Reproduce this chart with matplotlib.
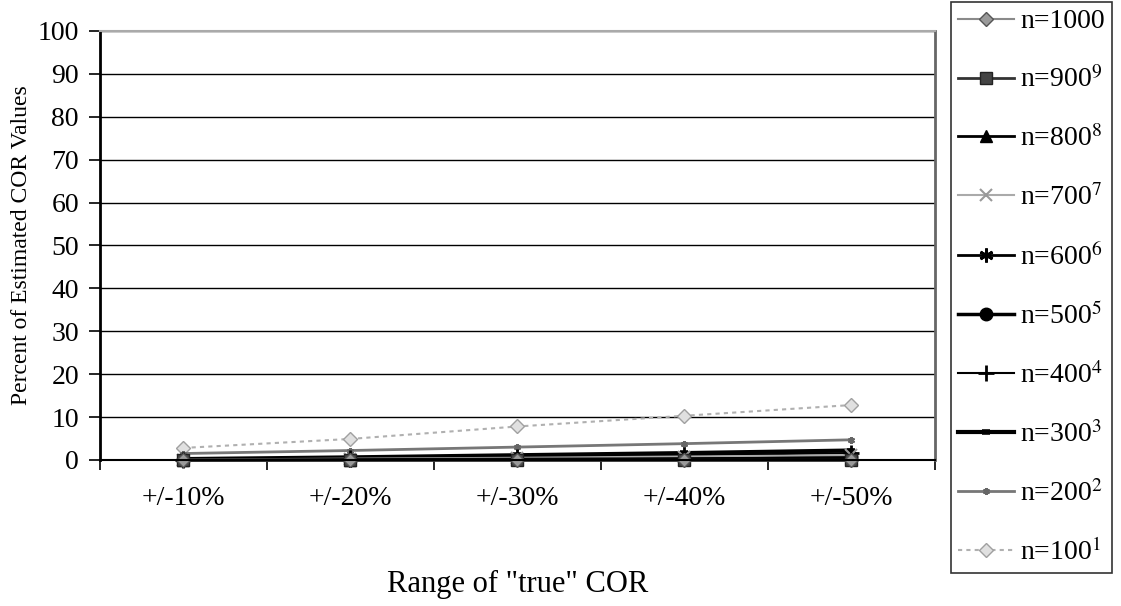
import numpy as np
import matplotlib.pyplot as plt

plt.rcParams['font.family'] = ['Liberation Serif', 'DejaVu Serif']
plt.rcParams['mathtext.fontset'] = 'stix'

# data
ranges = ['+/-10%', '+/-20%', '+/-30%', '+/-40%', '+/-50%']
n1000 = [0, 0, 0, 0, 0]
n900 = [0, 0, 0, 0, 0]
n800 = [0, 0.1, 0.2, 0.3, 0.5]
n700 = [0.1, 0.3, 0.5, 0.8, 1.1]
n600 = [0, 0.1, 0.3, 0.5, 0.8]
n500 = [0, 0.1, 0.2, 0.4, 0.6]
n400 = [0.1, 0.4, 0.8, 1.1, 1.6]
n300 = [0.2, 0.6, 1.1, 1.6, 2.2]
n200 = [1.5, 2.2, 3.0, 3.8, 4.7]
n100 = [2.8, 4.9, 7.8, 10.3, 12.8]

series = [
    ('n=1000', n1000, dict(color='#8a8a8a', lw=1.5, marker='D', ms=7, mfc='#9a9a9a', mec='#555555')),
    ('n=900$^{9}$', n900, dict(color='#333333', lw=2, marker='s', ms=8, mfc='#444444', mec='#222222')),
    ('n=800$^{8}$', n800, dict(color='black', lw=2, marker='^', ms=9, mfc='black', mec='black')),
    ('n=700$^{7}$', n700, dict(color='#aaaaaa', lw=1.5, marker='x', ms=9, mew=1.5, mec='#999999')),
    ('n=600$^{6}$', n600, dict(color='black', lw=2, marker=(6, 2, 0), ms=10, mew=2, mec='black')),
    ('n=500$^{5}$', n500, dict(color='black', lw=2.5, marker='o', ms=9, mfc='black', mec='black')),
    ('n=400$^{4}$', n400, dict(color='black', lw=1.5, marker='+', ms=11, mew=2, mec='black')),
    ('n=300$^{3}$', n300, dict(color='black', lw=3, marker='_', ms=6, mew=4, mec='black')),
    ('n=200$^{2}$', n200, dict(color='#777777', lw=2, marker=(6, 2, 0), ms=5, mew=1.5, mec='#666666')),
    ('n=100$^{1}$', n100, dict(color='#b0b0b0', lw=1.5, ls=(0, (2, 2)), marker='D', ms=7, mfc='#e0e0e0', mec='#a0a0a0')),
]

fig = plt.figure(figsize=(11.21, 6.06), dpi=100)
ax = fig.add_axes([0.089, 0.241, 0.745, 0.708])

x = np.arange(len(ranges))
# draw back to front so the black lines sit on top
for label, vals, style in reversed(series):
    ax.plot(x, vals, label=label, clip_on=False, **style)

ax.set_ylim(0, 100)
ax.set_xlim(-0.5, len(ranges) - 0.5)
ax.set_yticks(np.arange(0, 101, 10))
ax.yaxis.grid(True, color='black', lw=1)
ax.set_axisbelow(True)

ax.set_xticks(np.arange(-0.5, len(ranges), 1))
ax.set_xticklabels([])
ax.set_xticks(x, minor=True)
ax.set_xticklabels(ranges, minor=True)
ax.tick_params(axis='x', which='minor', length=0, pad=19, labelsize=20)
ax.tick_params(axis='x', which='major', length=7, width=1.2, direction='out')
ax.tick_params(axis='y', length=8, width=1.2, labelsize=20, pad=7)

ax.spines['left'].set_linewidth(2)
ax.spines['bottom'].set_linewidth(1.5)
ax.spines['top'].set_color('#aaaaaa')
ax.spines['top'].set_linewidth(1.5)
ax.spines['right'].set_color('#666666')
ax.spines['right'].set_linewidth(2)

ax.set_ylabel('Percent of Estimated COR Values', fontsize=17, labelpad=4)
ax.set_xlabel('Range of "true" COR', fontsize=22, labelpad=42)

handles, labels = ax.get_legend_handles_labels()
leg = fig.legend(handles[::-1], labels[::-1], loc='upper left',
                 bbox_to_anchor=(951 / 1121, 1 - 2 / 606), borderaxespad=0,
                 fontsize=20, frameon=True, fancybox=False,
                 edgecolor='black', handlelength=2.0, handletextpad=0.25,
                 labelspacing=1.15, borderpad=0.25)
leg.get_frame().set_linewidth(1.2)

fig.savefig('out.png', dpi=100)
